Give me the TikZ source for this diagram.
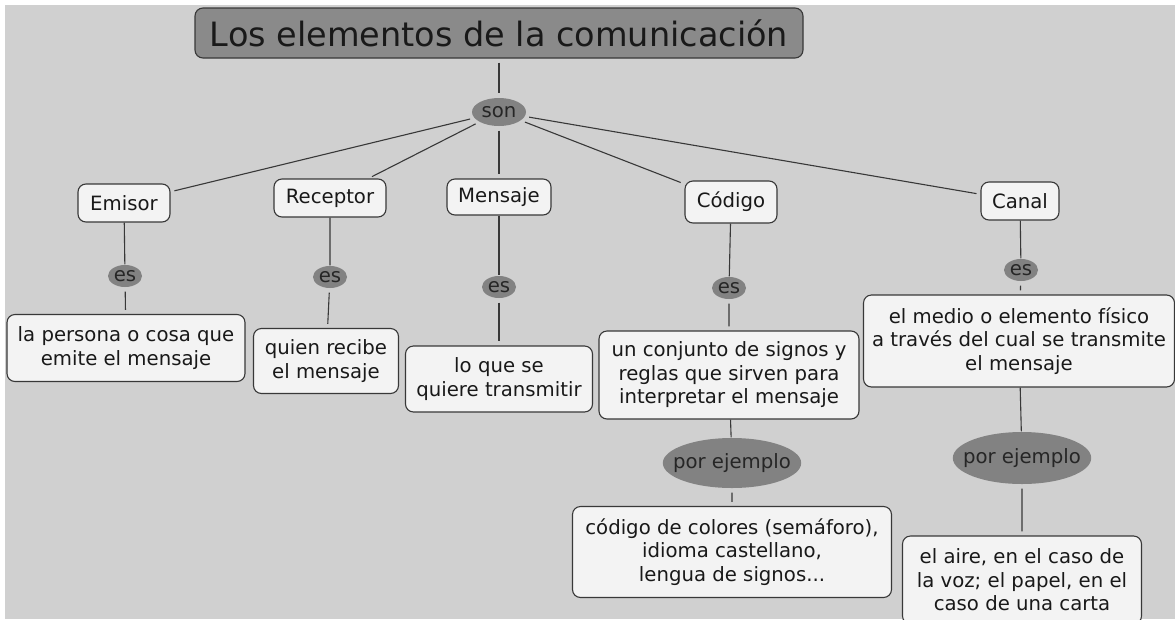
\documentclass[tikz,border=0pt]{standalone}
\usepackage{fontspec}
\setmainfont{DejaVu Sans}
\usepackage{tikz}
\usetikzlibrary{shapes.geometric,positioning}

\definecolor{bggray}{HTML}{D0D0D0}
\definecolor{boxwhite}{HTML}{F3F3F3}
\definecolor{titlegray}{HTML}{8A8A8A}
\definecolor{linkgray}{HTML}{828282}
\definecolor{linegray}{HTML}{383838}

\begin{document}
\begin{tikzpicture}[x=1pt,y=-1pt]
	\useasboundingbox (0,0) rectangle (1175,619);
	\fill[white] (0,0) rectangle (1175,619);
	\fill[bggray] (5,5) rectangle (1175,619);

	\begin{scope}[every node/.style={rectangle,rounded corners=8pt,draw=linegray,fill=boxwhite,line width=1.1pt,text=black!90,font=\fontsize{19.7}{23.5}\selectfont,align=center,inner sep=0pt},
		linkword/.style={ellipse,sharp corners,draw=none,fill=linkgray,text=black!85,inner xsep=-10pt}]
		\node[fill=titlegray,font=\fontsize{33.5}{40}\selectfont,minimum width=608pt,minimum height=50pt] (title) at (499,33) {Los elementos de la comunicación};
		\node[linkword,minimum width=54pt,minimum height=28pt] (son) at (499,112) {son};

		% categories
		\node[minimum width=92pt,minimum height=38pt] (emisor) at (124,203) {Emisor};
		\node[minimum width=112pt,minimum height=38pt] (receptor) at (330,198) {Receptor};
		\node[minimum width=104pt,minimum height=36pt] (mensaje) at (499,197) {Mensaje};
		\node[minimum width=92pt,minimum height=42pt] (codigo) at (731,202) {Código};
		\node[minimum width=78pt,minimum height=38pt] (canal) at (1020,201) {Canal};

		\node[linkword,minimum width=34pt,minimum height=22pt] (es1) at (125,276) {es};
		\node[linkword,minimum width=34pt,minimum height=22pt] (es2) at (330,277) {es};
		\node[linkword,minimum width=34pt,minimum height=22pt] (es3) at (499,287) {es};
		\node[linkword,minimum width=34pt,minimum height=22pt] (es4) at (729,288) {es};
		\node[linkword,minimum width=34pt,minimum height=22pt] (es5) at (1021,270) {es};

		% definitions
		\node[minimum width=238pt,minimum height=67pt] (emisordef) at (126,348) {la persona o cosa que\\emite el mensaje};
		\node[minimum width=145pt,minimum height=65pt] (receptordef) at (326,361) {quien recibe\\el mensaje};
		\node[minimum width=187pt,minimum height=66pt] (mensajedef) at (499,379) {lo que se\\quiere transmitir};
		\node[minimum width=260pt,minimum height=88pt] (codigodef) at (729,375) {un conjunto de signos y\\reglas que sirven para\\interpretar el mensaje};
		\node[minimum width=311pt,minimum height=92pt] (canaldef) at (1019,341) {el medio o elemento físico\\a través del cual se transmite\\el mensaje};

		\node[linkword,minimum width=135pt,minimum height=50pt] (ej1) at (732,463) {por ejemplo};
		\node[linkword,minimum width=132pt,minimum height=52pt] (ej2) at (1022,458) {por ejemplo};

		\node[minimum width=319pt,minimum height=91pt] (codigoej) at (732,552) {código de colores (semáforo),\\idioma castellano,\\lengua de signos...};
		\node[minimum width=239pt,minimum height=88pt] (canalej) at (1022,580) {el aire, en el caso de\\la voz; el papel, en el\\caso de una carta};
	\end{scope}

	\begin{scope}[line width=1.1pt,draw=linegray,shorten <=4pt,shorten >=4pt]
	\draw (title) -- (son);
	\draw (son) edge (emisor) edge (receptor) edge (mensaje) edge (codigo) edge (canal);
	\draw (emisor) -- (es1) (es1) -- (emisordef);
	\draw (receptor) -- (es2) (es2) -- (receptordef);
	\draw (mensaje) -- (es3) (es3) -- (mensajedef);
	\draw (codigo) -- (es4) (es4) -- (codigodef);
	\draw (canal) -- (es5) (es5) -- (canaldef);
	\draw (codigodef) -- (ej1) (ej1) -- (codigoej);
	\draw (canaldef) -- (ej2) (ej2) -- (canalej);
	\end{scope}
\end{tikzpicture}
\end{document}
